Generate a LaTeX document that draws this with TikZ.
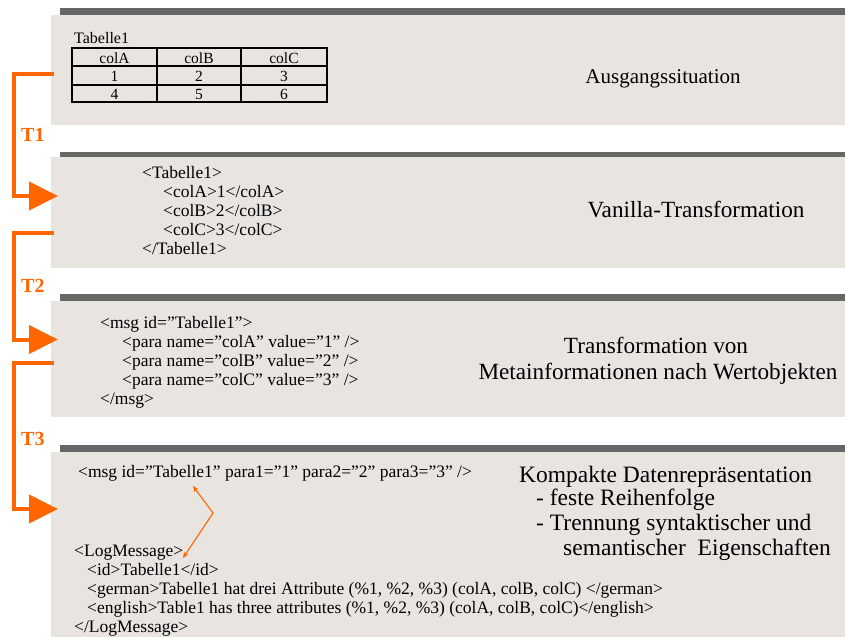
\documentclass[tikz,border=0pt]{standalone}
\usepackage{fontspec}
\setmainfont{Liberation Serif}
\usetikzlibrary{arrows.meta}
\definecolor{panelgray}{RGB}{232,229,225}
\definecolor{bargray}{RGB}{102,102,102}
\definecolor{flow}{RGB}{255,102,0}

\begin{document}
\begin{tikzpicture}[x=1pt,y=-1pt,
  panel/.style={fill=panelgray, draw=none, inner sep=0pt, anchor=north west, minimum width=794pt},
  topbar/.style={fill=bargray, draw=none},
  xml/.style={anchor=base west, inner sep=0pt, font=\fontsize{17.5}{19}\selectfont},
  heading/.style={anchor=base, inner sep=0pt, font=\fontsize{23.2}{26}\selectfont},
  note/.style={anchor=base west, inner sep=0pt, font=\fontsize{23.5}{26}\selectfont},
  tlabel/.style={anchor=base west, inner sep=0pt, text=flow, font=\fontsize{20}{22}\selectfont\bfseries},
  cell/.style={anchor=base, inner sep=0pt, font=\fontsize{15.5}{17}\selectfont},
  flowline/.style={draw=flow, line width=4pt, line join=miter, -{Triangle[length=29pt,width=28pt]}},
  link/.style={draw=flow, line width=1.1pt, {Stealth[length=6pt,width=5pt]}-{Stealth[length=6pt,width=5pt]}},
]
\useasboundingbox (0,0) rectangle (845,637);

% ---- panels with their dark top bars
\node[panel, minimum height=110pt] (p1) at (51,15) {};
\fill[topbar] (60,8) rectangle (845,15);
\node[panel, minimum height=111pt] (p2) at (51,157) {};
\fill[topbar] (60,152) rectangle (845,157);
\node[panel, minimum height=116pt] (p3) at (51,301) {};
\fill[topbar] (60,294) rectangle (845,301);
\node[panel, minimum height=185pt] (p4) at (51,452) {};
\fill[topbar] (60,445) rectangle (845,452);

% ---- panel 1: source table
\node[anchor=base west, inner sep=0pt, font=\fontsize{16}{18}\selectfont] (tabname) at (74,43) {Tabelle1};
\draw[line width=1.4pt] (157,48) -- (157,102) (241,48) -- (241,102)
  (72,66) -- (327,66) (72,85) -- (327,85);
\draw[line width=1.7pt] (72,48) rectangle (327,102);
\node[cell] (hA) at (114.5,63) {colA};
\node[cell] (hB) at (199,63) {colB};
\node[cell] (hC) at (284,63) {colC};
\node[cell] (c11) at (114.5,81) {1};
\node[cell] (c12) at (199,81) {2};
\node[cell] (c13) at (284,81) {3};
\node[cell] (c21) at (114.5,99) {4};
\node[cell] (c22) at (199,99) {5};
\node[cell] (c23) at (284,99) {6};
\node[heading, font=\fontsize{21}{24}\selectfont] (h1) at (663,83) {Ausgangssituation};

% ---- panel 2: vanilla XML
\node[xml] (v1) at (142,178) {<Tabelle1>};
\node[xml] (v2) at (163,197) {<colA>1</colA>};
\node[xml] (v3) at (163,216) {<colB>2</colB>};
\node[xml] (v4) at (163,235) {<colC>3</colC>};
\node[xml] (v5) at (142,254) {</Tabelle1>};
\node[heading] (h2) at (696,217) {Vanilla-Transformation};

% ---- panel 3: meta information as value objects
\node[xml] (m1) at (100,328) {<msg id=”Tabelle1”>};
\node[xml] (m2) at (122,347) {<para name=”colA” value=”1” />};
\node[xml] (m3) at (122,366) {<para name=”colB” value=”2” />};
\node[xml] (m4) at (122,385) {<para name=”colC” value=”3” />};
\node[xml] (m5) at (100,404) {</msg>};
\node[heading] (h3a) at (656,353) {Transformation von};
\node[heading] (h3b) at (658,379) {Metainformationen nach Wertobjekten};

% ---- panel 4: compact representation
\node[xml] (k1) at (78,477) {<msg id=”Tabelle1” para1=”1” para2=”2” para3=”3” />};
\node[xml] (l1) at (74,556) {<LogMessage>};
\node[xml] (l2) at (87,575) {<id>Tabelle1</id>};
\node[xml] (l3) at (87,594) {<german>Tabelle1 hat drei Attribute (\%1, \%2, \%3) (colA, colB, colC) </german>};
\node[xml] (l4) at (87,613) {<english>Table1 has three attributes (\%1, \%2, \%3) (colA, colB, colC)</english>};
\node[xml] (l5) at (74,632) {</LogMessage>};
\node[note] (n1) at (519,482) {Kompakte Datenrepräsentation};
\node[note] (n2) at (536,505) {- feste Reihenfolge};
\node[note] (n3) at (536,530) {- Trennung syntaktischer und};
\node[note] (n4) at (563,555) {semantischer\ \ Eigenschaften};

% link between the id attribute and the log message
\coordinate (a1) at (193,486);
\coordinate (a2) at (213,513);
\coordinate (a3) at (183,558);
\draw[link] (a1) -- (a2) -- (a3);

% ---- transformation steps
\coordinate (t1s) at (54,73.5);
\coordinate (t1e) at (58,196);
\coordinate (t2s) at (54,233);
\coordinate (t2e) at (58,339.5);
\coordinate (t3s) at (54,363);
\coordinate (t3e) at (58,509);
\draw[flowline] (t1s) -- ++(-40,0) |- (t1e);
\draw[flowline] (t2s) -- ++(-40,0) |- (t2e);
\draw[flowline] (t3s) -- ++(-40,0) |- (t3e);
\node[tlabel] (T1) at (21,141) {T1};
\node[tlabel] (T2) at (21,292) {T2};
\node[tlabel] (T3) at (21,445) {T3};
\end{tikzpicture}
\end{document}
